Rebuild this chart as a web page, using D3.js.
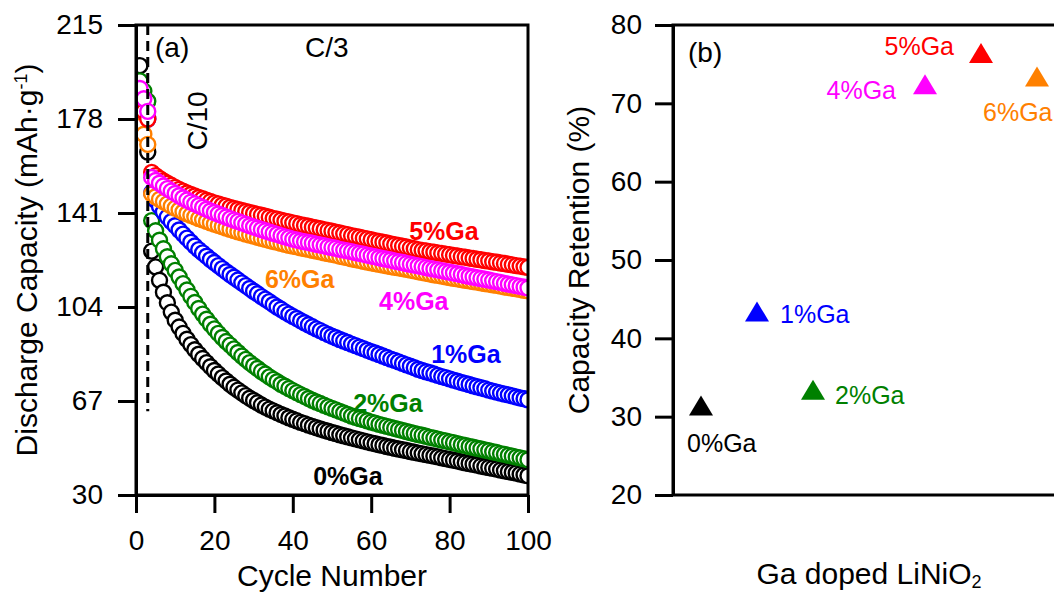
<!DOCTYPE html>
<html>
<head>
<meta charset="utf-8">
<script src="https://cdn.jsdelivr.net/npm/d3@7"></script>
<style>
  html, body { margin: 0; padding: 0; background: #fff; }
  svg { display: block; font-family: 'Liberation Sans', Arial, Helvetica, sans-serif; }
  .axis path, .axis line { stroke: #000; stroke-width: 3; }
  .axis text { font-size: 28px; fill: #000; font-family: 'Liberation Sans', Arial, sans-serif; }
</style>
</head>
<body>
<div id="chart"></div>
<script>
// cycle number (x) for panel (a)
const cycles = d3.range(1, 101);

// discharge capacity (mAh/g) per cycle
const cap0Ga = [
  199, 187, 165, 126, 119.8, 114.5, 109.8, 105.7, 102, 98.8,
  96.1, 93.6, 91.3, 89.2, 87.2, 85.4, 83.7, 82.1, 80.5, 79,
  77.6, 76.2, 74.9, 73.6, 72.4, 71.3, 70.2, 69.1, 68.1, 67.2,
  66.3, 65.4, 64.6, 63.8, 63.1, 62.4, 61.7, 61.1, 60.4, 59.8,
  59.2, 58.6, 58.1, 57.5, 57, 56.5, 56, 55.5, 55.1, 54.6,
  54.2, 53.7, 53.3, 52.9, 52.5, 52.1, 51.7, 51.3, 50.9, 50.5,
  50.2, 49.8, 49.5, 49.1, 48.8, 48.4, 48.1, 47.8, 47.5, 47.1,
  46.8, 46.5, 46.2, 45.9, 45.6, 45.3, 45, 44.6, 44.3, 44,
  43.7, 43.4, 43, 42.7, 42.4, 42.1, 41.8, 41.4, 41.1, 40.8,
  40.5, 40.2, 39.8, 39.5, 39.2, 38.9, 38.6, 38.2, 37.9, 37.6
];
const cap1Ga = [
  182, 180, 178, 149, 146, 143.6, 141.4, 139.4, 137.6, 136,
  134.3, 132.7, 131.1, 129.5, 128, 126.6, 125.3, 124, 122.7, 121.5,
  120.3, 119.1, 117.9, 116.8, 115.7, 114.6, 113.5, 112.4, 111.3, 110.2,
  109.2, 108.1, 107.1, 106.1, 105, 104, 103.1, 102.1, 101.2, 100.3,
  99.5, 98.6, 97.8, 97, 96.2, 95.4, 94.7, 93.9, 93.2, 92.5,
  91.9, 91.2, 90.6, 90, 89.4, 88.8, 88.2, 87.6, 87, 86.4,
  85.9, 85.3, 84.7, 84.1, 83.5, 83, 82.4, 81.8, 81.2, 80.7,
  80.1, 79.5, 79, 78.5, 78.1, 77.6, 77.1, 76.6, 76.2, 75.7,
  75.2, 74.8, 74.3, 73.9, 73.5, 73, 72.6, 72.2, 71.8, 71.3,
  70.9, 70.5, 70.1, 69.7, 69.4, 69, 68.6, 68.2, 67.9, 67.5
];
const cap2Ga = [
  193, 189, 185, 138, 134, 130.3, 126.9, 123.8, 121, 118.4,
  115.8, 113.2, 110.7, 108.2, 105.8, 103.4, 101.2, 99.2, 97.2, 95.4,
  93.6, 92, 90.4, 89, 87.5, 86.1, 84.7, 83.4, 82.1, 80.9,
  79.8, 78.6, 77.6, 76.5, 75.5, 74.6, 73.6, 72.8, 71.9, 71.1,
  70.3, 69.5, 68.8, 68, 67.3, 66.6, 66, 65.3, 64.7, 64.1,
  63.5, 62.9, 62.3, 61.7, 61.1, 60.6, 60.1, 59.7, 59.2, 58.7,
  58.3, 57.8, 57.4, 57, 56.6, 56.2, 55.8, 55.4, 55, 54.6,
  54.2, 53.8, 53.5, 53.1, 52.7, 52.4, 52, 51.6, 51.3, 50.9,
  50.6, 50.2, 49.8, 49.5, 49.1, 48.8, 48.4, 48.1, 47.7, 47.4,
  47, 46.7, 46.3, 46, 45.6, 45.3, 44.9, 44.6, 44.2, 43.9
];
const cap4Ga = [
  190, 186, 181, 155, 153.8, 152.7, 151.6, 150.6, 149.6, 148.7,
  147.8, 146.9, 146.1, 145.3, 144.6, 143.9, 143.2, 142.5, 141.8, 141.2,
  140.6, 140, 139.4, 138.8, 138.2, 137.7, 137.1, 136.6, 136, 135.5,
  135, 134.5, 134, 133.5, 133, 132.6, 132.1, 131.6, 131.2, 130.7,
  130.4, 130, 129.7, 129.4, 129.1, 128.7, 128.4, 128.1, 127.7, 127.4,
  127.1, 126.7, 126.4, 126.1, 125.8, 125.4, 125.1, 124.8, 124.4, 124.1,
  123.8, 123.4, 123.1, 122.8, 122.5, 122.1, 121.8, 121.5, 121.1, 120.8,
  120.5, 120.2, 119.9, 119.5, 119.2, 118.9, 118.6, 118.3, 118, 117.7,
  117.4, 117.1, 116.8, 116.4, 116.1, 115.8, 115.5, 115.2, 114.9, 114.6,
  114.3, 114, 113.7, 113.3, 113, 112.7, 112.4, 112.1, 111.8, 111.5
];
const cap5Ga = [
  183, 181, 178, 157, 155.7, 154.6, 153.6, 152.7, 151.9, 151.1,
  150.3, 149.6, 148.9, 148.3, 147.7, 147.1, 146.6, 146, 145.5, 145,
  144.6, 144.1, 143.7, 143.2, 142.8, 142.4, 142, 141.6, 141.2, 140.8,
  140.4, 140.1, 139.7, 139.3, 138.9, 138.6, 138.2, 137.8, 137.5, 137.1,
  136.8, 136.4, 136.1, 135.8, 135.4, 135.1, 134.8, 134.4, 134.1, 133.8,
  133.4, 133.1, 132.8, 132.5, 132.1, 131.8, 131.5, 131.1, 130.8, 130.5,
  130.1, 129.8, 129.5, 129.2, 128.8, 128.5, 128.2, 127.9, 127.6, 127.2,
  126.9, 126.6, 126.3, 126.1, 125.8, 125.6, 125.3, 125.1, 124.8, 124.6,
  124.3, 124.1, 123.8, 123.6, 123.3, 123.1, 122.8, 122.6, 122.3, 122.1,
  121.8, 121.6, 121.3, 121.1, 120.8, 120.6, 120.3, 120.1, 119.8, 119.6
];
const cap6Ga = [
  175, 172, 168, 148.5, 147.4, 146.4, 145.5, 144.6, 143.7, 142.9,
  142.2, 141.4, 140.7, 140.1, 139.5, 138.8, 138.3, 137.7, 137.1, 136.6,
  136.1, 135.6, 135.1, 134.6, 134.1, 133.6, 133.2, 132.7, 132.3, 131.9,
  131.4, 131, 130.6, 130.2, 129.8, 129.5, 129.1, 128.7, 128.3, 128,
  127.7, 127.3, 127, 126.7, 126.3, 126, 125.7, 125.3, 125, 124.7,
  124.4, 124, 123.7, 123.4, 123, 122.7, 122.4, 122, 121.7, 121.4,
  121.1, 120.8, 120.5, 120.2, 119.9, 119.6, 119.4, 119.1, 118.8, 118.5,
  118.2, 117.9, 117.6, 117.3, 117, 116.7, 116.5, 116.2, 115.9, 115.6,
  115.3, 115.1, 114.8, 114.5, 114.3, 114, 113.8, 113.5, 113.2, 113,
  112.7, 112.5, 112.2, 111.9, 111.7, 111.4, 111.2, 110.9, 110.6, 110.4
];

// panel (b): capacity retention (%) per doping level
const dopingLabels = ['0%Ga', '1%Ga', '2%Ga', '4%Ga', '5%Ga', '6%Ga'];
const dopingLevels = [0, 1, 2, 4, 5, 6];
const retention = [31, 43, 33, 72, 76, 73];

// tick values
const capTicks = [30, 67, 104, 141, 178, 215];
const cycleTicks = [0, 20, 40, 60, 80, 100];
const retentionTicks = [20, 30, 40, 50, 60, 70, 80];

// where the series names sit in panel (a), in data units [cycle, capacity]
const seriesLabelAt = [[45.2, 34.1], [75.3, 82.0], [55.4, 62.8], [62.0, 102.8], [69.7, 130.4], [32.9, 111.5]];
// label offsets next to each triangle in panel (b), px
const retentionLabelOffset = [[-14, 43, 'start'], [23, 8, 'start'], [22, 11, 'start'], [-29, 11, 'end'], [-27, -1, 'end'], [-54, 41, 'start']];

const COLORS = ['#000000', '#0000ff', '#008000', '#ff00ff', '#ff0000', '#ff8000'];
const capSeries = [cap0Ga, cap1Ga, cap2Ga, cap4Ga, cap5Ga, cap6Ga];
const DRAW_ORDER = [0, 2, 1, 5, 4, 3];

const W = 1054, H = 593;
const TICK = 18;
const pA = { left: 136, right: 528, top: 25, bottom: 495 };
const pB = { left: 673, right: 1065, top: 25, bottom: 495 };

const colorOf = d3.scaleOrdinal().domain(dopingLabels).range(COLORS);

const svg = d3.select('#chart').append('svg')
    .attr('width', W)
    .attr('height', H);

svg.append('rect').attr('width', W).attr('height', H).attr('fill', '#fff');

/** ---------- panel (a) ---------- */
const xA = d3.scaleLinear().domain([0, 100]).range([pA.left, pA.right]);
const yA = d3.scaleLinear().domain([30, 215]).range([pA.bottom, pA.top]);

svg.append('clipPath').attr('id', 'clipA')
    .append('rect')
    .attr('x', pA.left).attr('y', pA.top)
    .attr('width', pA.right - pA.left).attr('height', pA.bottom - pA.top);

const plotA = svg.append('g').attr('clip-path', 'url(#clipA)');

DRAW_ORDER.forEach((k) => {
    const pts = capSeries[k].map((v, i) => ({ c: cycles[i], v: v }));
    plotA.append('g')
        .selectAll('circle')
        .data(pts)
        .join('circle')
        .attr('cx', (d) => xA(d.c))
        .attr('cy', (d) => yA(d.v))
        .attr('r', 7.5)
        .attr('fill', '#fff')
        .attr('stroke', colorOf(dopingLabels[k]))
        .attr('stroke-width', 2.4);
});

/** rate change marker */
svg.append('line')
    .attr('x1', xA(3)).attr('x2', xA(3))
    .attr('y1', yA(215)).attr('y2', yA(63))
    .attr('stroke', '#000')
    .attr('stroke-width', 3)
    .attr('stroke-dasharray', '10,6');

svg.append('rect')
    .attr('x', pA.left).attr('y', pA.top)
    .attr('width', pA.right - pA.left).attr('height', pA.bottom - pA.top)
    .attr('fill', 'none').attr('stroke', '#000').attr('stroke-width', 3);

svg.append('g').attr('class', 'axis')
    .attr('transform', `translate(${pA.left},0)`)
    .call(d3.axisLeft(yA).tickValues(capTicks).tickSize(TICK).tickSizeOuter(0).tickPadding(15));

svg.append('g').attr('class', 'axis')
    .attr('transform', `translate(0,${pA.bottom})`)
    .call(d3.axisBottom(xA).tickValues(cycleTicks).tickSize(TICK).tickSizeOuter(0).tickPadding(17));

svg.append('text')
    .attr('x', (pA.left + pA.right) / 2).attr('y', 586)
    .attr('text-anchor', 'middle')
    .style('font-size', '30px')
    .text('Cycle Number');

const yTitleA = svg.append('text')
    .attr('transform', 'translate(37,260) rotate(-90)')
    .attr('text-anchor', 'middle')
    .style('font-size', '30px');
yTitleA.append('tspan').text('Discharge Capacity (mAh\u00b7g');
yTitleA.append('tspan').attr('baseline-shift', 'super').style('font-size', '18px').text('-1');
yTitleA.append('tspan').text(')');

svg.append('text').attr('x', 155).attr('y', 57).style('font-size', '28px').text('(a)');
svg.append('text').attr('x', 305).attr('y', 57).style('font-size', '28px').text('C/3');
svg.append('text')
    .attr('transform', 'translate(207,121) rotate(-90)')
    .attr('text-anchor', 'middle')
    .style('font-size', '28px')
    .text('C/10');

svg.append('g')
    .selectAll('text')
    .data(dopingLabels)
    .join('text')
    .attr('x', (d, i) => xA(seriesLabelAt[i][0]))
    .attr('y', (d, i) => yA(seriesLabelAt[i][1]))
    .attr('fill', (d) => colorOf(d))
    .style('font-size', '25px')
    .style('font-weight', 'bold')
    .text((d) => d);

/** ---------- panel (b) ---------- */
const xB = d3.scaleLinear().domain([-0.5, 6.5]).range([pB.left, pB.right]);
const yB = d3.scaleLinear().domain([20, 80]).range([pB.bottom, pB.top]);

svg.append('rect')
    .attr('x', pB.left).attr('y', pB.top)
    .attr('width', pB.right - pB.left).attr('height', pB.bottom - pB.top)
    .attr('fill', 'none').attr('stroke', '#000').attr('stroke-width', 3);

svg.append('g').attr('class', 'axis')
    .attr('transform', `translate(${pB.left},0)`)
    .call(d3.axisLeft(yB).tickValues(retentionTicks).tickSize(TICK).tickSizeOuter(0).tickPadding(13));

const pts = dopingLabels.map((name, i) => ({ name: name, x: dopingLevels[i], v: retention[i], off: retentionLabelOffset[i] }));

svg.append('g')
    .selectAll('path')
    .data(pts)
    .join('path')
    .attr('transform', (d) => `translate(${xB(d.x)},${yB(d.v)})`)
    .attr('d', 'M0,-13.3L12,6.7L-12,6.7Z')
    .attr('fill', (d) => colorOf(d.name));

svg.append('g')
    .selectAll('text')
    .data(pts)
    .join('text')
    .attr('x', (d) => xB(d.x) + d.off[0])
    .attr('y', (d) => yB(d.v) + d.off[1])
    .attr('text-anchor', (d) => d.off[2])
    .attr('fill', (d) => colorOf(d.name))
    .style('font-size', '25px')
    .text((d) => d.name);

svg.append('text').attr('x', 688).attr('y', 62).style('font-size', '28px').text('(b)');

svg.append('text')
    .attr('transform', 'translate(589,260) rotate(-90)')
    .attr('text-anchor', 'middle')
    .style('font-size', '30px')
    .text('Capacity Retention (%)');

const xTitleB = svg.append('text')
    .attr('x', (pB.left + pB.right) / 2).attr('y', 584)
    .attr('text-anchor', 'middle')
    .style('font-size', '30px');
xTitleB.append('tspan').text('Ga doped LiNiO');
xTitleB.append('tspan').attr('dy', 4).style('font-size', '18px').text('2');
</script>
</body>
</html>
